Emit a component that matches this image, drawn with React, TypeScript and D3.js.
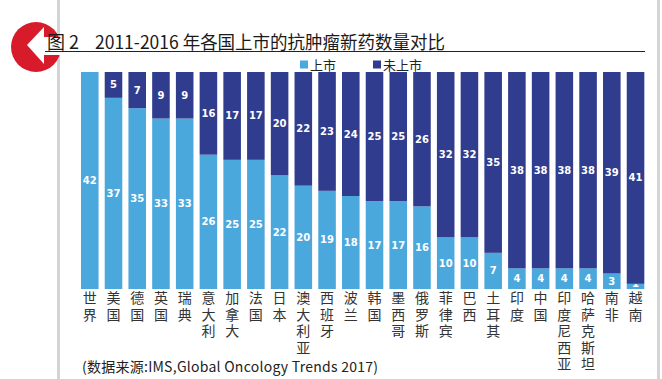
import React from "react";
import * as d3 from "d3";

const countries = ["世界","美国","德国","英国","瑞典","意大利","加拿大","法国","日本","澳大利亚","西班牙","波兰","韩国","墨西哥","俄罗斯","菲律宾","巴西","土耳其","印度","中国","印度尼西亚","哈萨克斯坦","南非","越南"];
const launched = [42,37,35,33,33,26,25,25,22,20,19,18,17,17,16,10,10,7,4,4,4,4,3,1];
const notLaunched = [0,5,7,9,9,16,17,17,20,22,23,24,25,25,26,32,32,35,38,38,38,38,39,41];
const seriesNames = ["上市","未上市"];
const titleLabel = "图 2";
const titleText = "2011-2016 年各国上市的抗肿瘤新药数量对比";
const sourceText = "(数据来源:IMS,Global Oncology Trends 2017)";

const LIGHT = "#4ba8dd";
const DARK = "#303c8d";
const FONT = "'Noto Sans CJK SC', 'Noto Sans', sans-serif";

export default function App() {
  const W = 662, H = 379;
  const x = d3.scaleBand<string>().domain(countries).range([77.9, 647.4]).paddingInner(0.26).paddingOuter(0.13);
  const y = d3.scaleLinear().domain([0, 42]).range([289, 72]);
  const rows = countries.map((c, i) => ({ c, a: launched[i], b: notLaunched[i] }));
  const stack = d3.stack<any>().keys(["a", "b"])(rows as any);
  const colors = [LIGHT, DARK];

  return (
    <svg width={W} height={H} style={{ position: "absolute", left: 0, top: 0, background: "#fff" }} fontFamily={FONT}>
      <rect x={0} y={0} width={W} height={H} fill="#fff" />
      {/* page borders */}
      <rect x={57} y={0} width={3} height={H} fill="#d4d4d4" />
      <rect x={657} y={0} width={3} height={H} fill="#d4d4d4" />
      {/* logo */}
      <circle cx={36} cy={47} r={25} fill="#d71b2b" />
      <path d="M27,45 L44,27 L44,37 L63,37 L63,55 L44,55 L44,64 Z" fill="#fff" />
      {/* title */}
      <text x={47} y={49} fontSize={18} fill="#1a1a1a">{titleLabel}</text>
      <text x={95} y={49} fontSize={18} fill="#1a1a1a" textLength={350} lengthAdjust="spacingAndGlyphs">{titleText}</text>
      <line x1={45} x2={645} y1={51.5} y2={51.5} stroke="#222" strokeWidth={1.2} />
      {/* legend */}
      <rect x={300} y={60.5} width={8} height={8} fill={LIGHT} />
      <text x={310} y={69.5} fontSize={13} fill="#222">{seriesNames[0]}</text>
      <rect x={373} y={60.5} width={8} height={8} fill={DARK} />
      <text x={383} y={69.5} fontSize={13} fill="#222">{seriesNames[1]}</text>
      {/* bars */}
      {stack.map((s, si) => (
        <g key={si}>
          {s.map((d: any, i: number) => {
            const v = d[1] - d[0];
            if (v <= 0) return null;
            const x0 = x(countries[i])!;
            const y0 = y(d[1]);
            const y1 = y(d[0]);
            const cy = Math.min((y0 + y1) / 2, 283.5);
            return (
              <g key={i}>
                <rect x={x0} y={y0} width={x.bandwidth()} height={y1 - y0} fill={colors[si]} />
                <text x={x0 + x.bandwidth() / 2} y={cy + 3.5} fontSize={10} fontWeight="bold" fill="#fff" textAnchor="middle" fontFamily="'DejaVu Sans', sans-serif">{v}</text>
              </g>
            );
          })}
        </g>
      ))}
      {/* x labels (vertical) */}
      {countries.map((c) => (
        <text key={c} x={x(c)! + x.bandwidth() / 2} y={291} fontSize={14} fill="#333"
          style={{ writingMode: "vertical-rl", letterSpacing: "2.5px" }}>{c}</text>
      ))}
      {/* source */}
      <text x={82} y={372} fontSize={14} fill="#222" textLength={296} lengthAdjust="spacing">{sourceText}</text>
    </svg>
  );
}
